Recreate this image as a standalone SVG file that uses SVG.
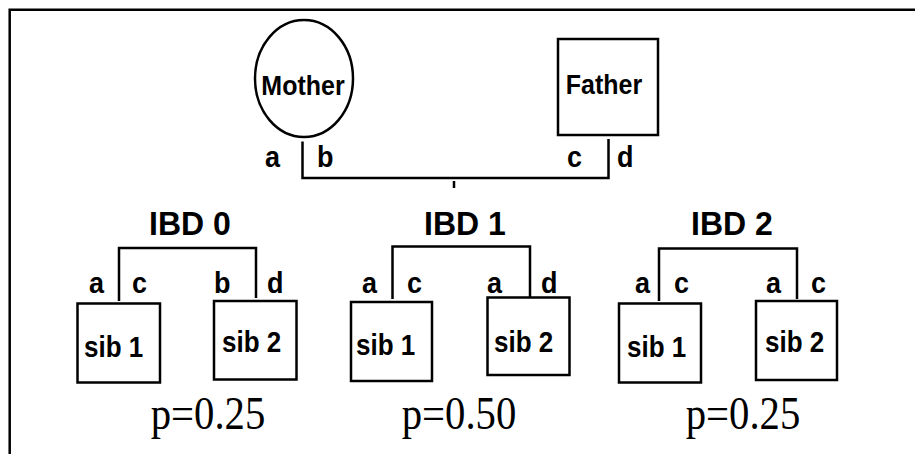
<svg xmlns="http://www.w3.org/2000/svg" width="915" height="454" viewBox="0 0 915 454">
<style>
.ln{fill:none;stroke:#000;stroke-width:2.5}
.bx{fill:#fff;stroke:#000;stroke-width:2.5}
.t{font-family:"Liberation Sans",Arial,sans-serif;font-weight:bold;fill:#000}
.n{font-size:25px;text-anchor:middle}
.l{font-size:27px}
.s{font-size:26px}
.h{font-size:32px;text-anchor:middle}
.p{font-family:"Liberation Serif","Times New Roman",serif;font-size:42px;fill:#000;text-anchor:middle}
</style>
<rect width="915" height="454" fill="#fff"/>
<path class="ln" d="M9.7 454V9.7H915" stroke-width="2.6"/>
<g id="mother">
<ellipse class="bx" cx="304" cy="78.5" rx="49" ry="58.5" stroke-width="2"/>
<text class="t n" transform="matrix(1 0 0 1.12 303 95)">Mother</text>
</g>
<g id="father">
<rect class="bx" x="558" y="39" width="100" height="96"/>
<text class="t n" transform="matrix(1 0 0 1.12 604 94)">Father</text>
</g>
<g id="ibd0">
<text class="t h" transform="matrix(1 0 0 1.05 190 235)">IBD 0</text>
<g id="ibd0-sib1"><rect class="bx" x="77.5" y="303.5" width="82.5" height="79"/><text class="t s" transform="matrix(1 0 0 1.14 84 357)">sib 1</text></g>
<g id="ibd0-sib2"><rect class="bx" x="214" y="301" width="82.5" height="78.5"/><text class="t s" transform="matrix(1 0 0 1.14 222 352)">sib 2</text></g>
</g>
<g id="ibd1">
<text class="t h" transform="matrix(1 0 0 1.05 465 235)">IBD 1</text>
<g id="ibd1-sib1"><rect class="bx" x="351" y="302" width="81" height="79"/><text class="t s" transform="matrix(1 0 0 1.14 356 355)">sib 1</text></g>
<g id="ibd1-sib2"><rect class="bx" x="487.5" y="297.5" width="82" height="77.5"/><text class="t s" transform="matrix(1 0 0 1.14 494 352)">sib 2</text></g>
</g>
<g id="ibd2">
<text class="t h" transform="matrix(1 0 0 1.05 732 235)">IBD 2</text>
<g id="ibd2-sib1"><rect class="bx" x="619" y="303.5" width="82" height="79"/><text class="t s" transform="matrix(1 0 0 1.14 627 357)">sib 1</text></g>
<g id="ibd2-sib2"><rect class="bx" x="756" y="301" width="81" height="79"/><text class="t s" transform="matrix(1 0 0 1.14 765 352)">sib 2</text></g>
</g>
<g id="connectors">
<path class="ln" d="M302.5 141.5V178H608.5V139"/>
<path class="ln" d="M454 181V188" stroke-width="3"/>
<path class="ln" d="M119 301V248H256V298"/>
<path class="ln" d="M392.5 299V246.5H530V297.5"/>
<path class="ln" d="M659 301V248.5H797V299"/>
</g>
<g id="labels">
<text class="t l" transform="matrix(1 0 0 1.12 265 167)">a</text>
<text class="t l" transform="matrix(1 0 0 1.12 317 167)">b</text>
<text class="t l" transform="matrix(1 0 0 1.12 567 167)">c</text>
<text class="t l" transform="matrix(1 0 0 1.12 617 167)">d</text>
<text class="t l" transform="matrix(1 0 0 1.12 89 293)">a</text>
<text class="t l" transform="matrix(1 0 0 1.12 132 293)">c</text>
<text class="t l" transform="matrix(1 0 0 1.12 214 293)">b</text>
<text class="t l" transform="matrix(1 0 0 1.12 267 293)">d</text>
<text class="t l" transform="matrix(1 0 0 1.12 362 293)">a</text>
<text class="t l" transform="matrix(1 0 0 1.12 407 293)">c</text>
<text class="t l" transform="matrix(1 0 0 1.12 487 293)">a</text>
<text class="t l" transform="matrix(1 0 0 1.12 541 293)">d</text>
<text class="t l" transform="matrix(1 0 0 1.12 635 293)">a</text>
<text class="t l" transform="matrix(1 0 0 1.12 674 293)">c</text>
<text class="t l" transform="matrix(1 0 0 1.12 766 293)">a</text>
<text class="t l" transform="matrix(1 0 0 1.12 811 293)">c</text>
<text class="p" transform="matrix(0.97 0 0 1.1 208 429)">p=0.25</text>
<text class="p" transform="matrix(0.97 0 0 1.1 459 429)">p=0.50</text>
<text class="p" transform="matrix(0.97 0 0 1.1 743 429)">p=0.25</text>
</g>
</svg>
